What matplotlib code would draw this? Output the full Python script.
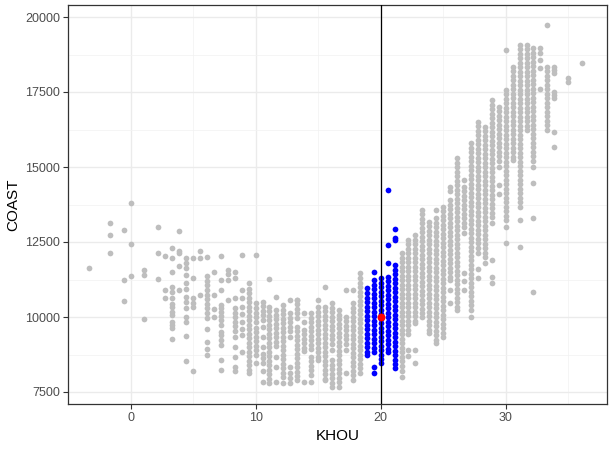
import matplotlib
matplotlib.use("Agg")
import matplotlib.pyplot as plt
import numpy as np

# KHOU temperature columns and the COAST loads for each column
khou_cols = [-3.33, -1.67, -0.56, 0.0, 1.11, 2.22, 2.78, 3.33, 3.89, 4.44,
             5.0, 5.56, 6.11, 6.67, 7.22, 7.78, 8.33, 8.89, 9.44, 10.0,
             10.56, 11.11, 11.67, 12.22, 12.78, 13.33, 13.89, 14.44, 15.0, 15.56,
             16.11, 16.67, 17.22, 17.78, 18.33, 18.89, 19.44, 20.0, 20.56, 21.11,
             21.67, 22.22, 22.78, 23.33, 23.89, 24.44, 25.0, 25.56, 26.11, 26.67,
             27.22, 27.78, 28.33, 28.89, 29.44, 30.0, 30.56, 31.11, 31.67, 32.22,
             32.78, 33.33, 33.89, 35.0, 36.11]

coast_cols = [
    [11620],
    [13120, 12750, 12120],
    [12890, 11230, 10520],
    [13790, 12430, 11360],
    [11560, 11390, 9920],
    [12990, 12120, 11270],
    [12050, 10910, 10650],
    [12290, 11960, 11500, 11010, 10850, 10620, 10450, 10350, 10180, 10070, 9850, 9730, 9620, 9260],
    [12860, 12200, 12140, 11700, 10900],
    [11960, 11790, 11620, 11400, 11120, 10920, 10680, 10500, 10300, 10010, 9850, 9370, 8520],
    [11960, 11290, 10620, 10460, 10350, 8190],
    [12200, 11960, 10750],
    [11990, 11360, 11210, 11060, 10900, 10750, 10600, 10450, 10300, 10150, 9980, 9590, 9180, 8920, 8720],
    [11500, 10730, 10270, 10010],
    [12030, 11230, 10900, 10400, 10290, 10180, 10040, 9900, 9730, 9510, 9400, 9230, 9070, 8570, 8230],
    [11570, 11450, 11230, 10570],
    [11510, 11290, 10620, 10290, 10150, 10000, 9850, 9700, 9550, 9350, 9010, 8680, 8345, 8210],
    [12060, 10900, 10650, 10350, 10100, 9850, 9600, 9400, 8850],
    [11120, 10950, 10790, 10620, 10500, 10350, 10200, 10050, 9900, 9750, 9600, 9450, 9300, 9150,
     9000, 8850, 8700, 8550, 8400, 8250, 8130],
    [12070, 10460, 10300, 10150, 9990, 9830, 9650, 9500, 9350, 9200, 9050, 8900, 8750, 8460],
    [10510, 10360, 10210, 10060, 9900, 9680, 9345, 9010, 8780, 8620, 8460, 8200, 7850],
    [11260, 10340, 10190, 10040, 9890, 9740, 9590, 9440, 9290, 9140, 8990, 8840, 8690, 8540,
     8390, 8240, 8090, 7940, 7790],
    [10680, 10230, 10080, 9930, 9780, 9630, 9480, 9330, 9180, 9030, 8680, 8350, 7850],
    [10400, 10250, 10100, 9950, 9800, 9650, 9500, 9350, 9200, 9050, 8900, 8750, 8600, 8450,
     8300, 8150, 8000, 7790],
    [10570, 10120, 9970, 9820, 9670, 9520, 9350, 8350, 8120, 7970, 7790],
    [10570, 10570, 10420, 10270, 10120, 9970, 9680, 9530, 9380, 9230, 9080, 8930, 8780, 8630,
     8480, 8330, 8180, 8020, 7900],
    [10120, 9840, 9570, 9420, 9270, 9120, 8970, 8870, 7850],
    [10120, 9970, 9820, 9670, 9520, 9370, 9220, 9070, 8920, 8670, 8520, 8370, 8220, 8070, 7850],
    [10570, 10330, 10180, 10030, 9880, 9730, 9580, 9430, 9280, 9130, 8980, 8830, 8680, 8570],
    [11010, 10340, 10190, 10040, 9890, 9740, 9590, 9440, 9290, 9140, 8990, 8840, 8690, 8540,
     8390, 8240, 8090, 7940, 7900],
    [10460, 10310, 10160, 10010, 9860, 9710, 9560, 9410, 9260, 9110, 8900, 8560, 8410, 8260,
     8110, 7960, 7810, 7680],
    [10230, 10080, 9930, 9780, 9630, 9480, 9330, 9180, 9030, 8880, 8730, 8580, 8430, 8280,
     8130, 7980, 7830, 7680],
    [10900, 10010, 9860, 9710, 9560, 9410, 9260, 9110, 8900, 8120],
    [10900, 10460, 10310, 10160, 10010, 9860, 9710, 9560, 9410, 9260, 9110, 8960, 8810, 8660,
     8510, 8360, 8210, 8060, 7900],
    [11460, 11300, 11150, 11000, 10850, 10700, 10550, 10400, 10250, 10100, 9950, 9800, 9650,
     9500, 9350, 9200, 9050, 8900, 8750, 8600, 8450, 8300, 8120],
    [10960, 10800, 10650, 10500, 10350, 10200, 10050, 9900, 9750, 9600, 9450, 9300, 9150,
     9000, 8850, 8730],
    [11510, 11230, 11080, 10930, 10780, 10630, 10480, 10330, 10180, 10030, 9880, 9730, 9580,
     9430, 9280, 9130, 8980, 8850, 8350, 8150],
    [11290, 11140, 10990, 10840, 10690, 10540, 10390, 10240, 10090, 9940, 9790, 9640, 9490,
     9340, 9190, 9040, 8890, 8740, 8600, 8460],
    [14230, 12400, 11790, 11340, 11190, 11040, 10890, 10740, 10590, 10440, 10290, 10140, 9990,
     9840, 9690, 9540, 9390, 9240, 9090, 8940, 8850],
    [12920, 12620, 12570, 11730, 11580, 11430, 11280, 11130, 10980, 10830, 10680, 10530, 10380,
     10230, 10080, 9930, 9780, 9630, 9480, 9330, 9180, 9030, 8880, 8730, 8580, 8430, 8290],
    [12120, 11970, 11820, 11670, 11520, 11370, 11220, 11070, 10920, 10770, 10620, 10470, 10320,
     10170, 10020, 9870, 9720, 9570, 9420, 9270, 9120, 8970, 8820, 8670, 8520, 8370, 8200, 8010],
    [12570, 12420, 12270, 12120, 11970, 11820, 11670, 11520, 11370, 11220, 11070, 10920, 10770,
     10620, 10470, 10320, 10170, 10020, 9870, 9720, 9570, 9420, 8900, 8700],
    [12730, 12580, 12430, 12280, 12130, 11980, 11830, 11680, 11530, 11380, 11230, 11080, 10930,
     10780, 10630, 10480, 10330, 10180, 10030, 9880, 9790, 8900, 8460],
    [13570, 13420, 13270, 13120, 12970, 12820, 12670, 12520, 12370, 12220, 12070, 11920, 11770,
     11620, 11470, 11320, 11170, 11020, 10870, 10720, 10570, 10420, 10270, 10120, 10010],
    [13180, 13030, 12880, 12730, 12580, 12430, 12280, 12130, 11980, 11830, 11680, 11530, 11380,
     11230, 11080, 10930, 10780, 10630, 10480, 10330, 10180, 10030, 9880, 9730, 9580, 9460],
    [13570, 13300, 13150, 13000, 12850, 12700, 12550, 12400, 12250, 12100, 11950, 11800, 11650,
     11500, 11350, 11200, 11050, 10900, 10750, 10600, 10450, 10300, 10150, 10000, 9850, 9700,
     9550, 9400, 9250, 9120],
    [13680, 13530, 13380, 13230, 13080, 12930, 12780, 12630, 12480, 12330, 12180, 12030, 11880,
     11730, 11580, 11430, 11280, 11130, 10980, 10830, 10680, 10530, 10380, 10230, 10080, 9930,
     9780, 9630, 9480, 9345],
    [14350, 14200, 13900, 13750, 13600, 13450, 13300, 13150, 13000, 12850, 12700, 12550, 12400,
     12250, 12100, 11950, 11800, 11650, 11500, 11350, 11230, 10900, 10460],
    [15290, 15140, 14990, 14840, 14690, 14540, 14390, 14240, 14090, 13940, 13790, 13640, 13490,
     13340, 13190, 13040, 12890, 12740, 12590, 12440, 12290, 12140, 11990, 11840, 11690, 11540,
     11390, 11240, 11090, 10940, 10790, 10640, 10490, 10340, 10230],
    [14570, 14350, 14200, 14050, 13900, 13750, 13600, 13450, 13300, 13150, 13000, 12790, 11460,
     11200, 10900],
    [15790, 15640, 15490, 15340, 15190, 15040, 14890, 14740, 14590, 14440, 14290, 14140, 13990,
     13840, 13690, 13540, 13390, 13240, 13090, 12940, 12790, 12640, 12490, 12340, 12190, 12040,
     11890, 11740, 11590, 11440, 11290, 11140, 10990, 10840, 10690, 10540, 10390, 10240, 10010],
    [16510, 16360, 16210, 16060, 15910, 15760, 15610, 15460, 15310, 15160, 15010, 14860, 14710,
     14560, 14410, 14260, 14110, 13960, 13810, 13660, 13510, 13360, 13210, 13060, 12910, 12760,
     12610, 12460, 12310, 12120, 11600, 11300],
    [16350, 16200, 16050, 15900, 15750, 15600, 15450, 15300, 15150, 15000, 14850, 14700, 14550,
     14400, 14250, 14100, 13950, 13800, 13650, 13500, 13350, 13200, 13050, 12900, 12750, 12600,
     12450, 12300, 12150, 12000, 11790],
    [17230, 17080, 16930, 16780, 16630, 16480, 16330, 16180, 16030, 15880, 15730, 15580, 15430,
     15280, 15130, 14980, 14830, 14680, 14530, 14380, 14230, 14080, 13930, 13780, 13630, 13480,
     13330, 13120, 11900, 11350, 11120],
    [17010, 16860, 16710, 16560, 16410, 16260, 16110, 15960, 15810, 15660, 15510, 15360, 15210,
     15010, 14400, 14100],
    [18900, 17570, 17420, 17270, 17120, 16970, 16820, 16670, 16520, 16370, 16220, 16070, 15920,
     15770, 15620, 15470, 15320, 15170, 15020, 14870, 14720, 14570, 14420, 14270, 14120, 13970,
     13820, 13670, 13520, 13370, 13220, 13010, 12460],
    [18350, 18200, 18050, 17900, 17750, 17600, 17450, 17300, 17150, 17000, 16850, 16700, 16550,
     16400, 16250, 16100, 15950, 15800, 15650, 15500, 15350, 15230],
    [19070, 18920, 18770, 18620, 18470, 18320, 18170, 18020, 17870, 17720, 17570, 17420, 17270,
     17120, 16970, 16820, 16670, 16520, 16370, 16220, 16070, 15920, 15770, 15620, 15470, 15320,
     15170, 15020, 14870, 14720, 14570, 14420, 14270, 14120, 13970, 13820, 13680, 13230, 12350],
    [19070, 18920, 18770, 18620, 18470, 18320, 18170, 18020, 17870, 17720, 17570, 17420, 17270,
     17120, 16970, 16820, 16670, 16520, 16370, 16230],
    [18960, 18810, 18660, 18510, 18360, 18210, 18060, 17910, 17760, 17610, 17460, 17310, 17160,
     17010, 16860, 16710, 16560, 16410, 16260, 16110, 15960, 15810, 15660, 15510, 15360, 15210,
     15010, 14460, 13290, 10850],
    [18960, 18800, 18570, 18300, 17600],
    [19730, 18350, 18200, 18050, 17900, 17750, 17600, 17450, 17300, 17150, 17000, 16850, 16700,
     16550, 16400, 16230],
    [18340, 18230, 18120, 17510, 17400, 17290, 16180, 15680],
    [17960, 17850],
    [18460],
]

# query point and window half-width
ref_khou = [20]
ref_coast = [10000]
window = 1.5

khou = np.concatenate([[x] * len(c) for x, c in zip(khou_cols, coast_cols)])
coast = np.concatenate([np.array(c, dtype=float) for c in coast_cols])
near = np.abs(khou - ref_khou[0]) <= window

plt.rcParams['font.family'] = ['Liberation Sans', 'DejaVu Sans']

fig = plt.figure(figsize=(6.15, 4.49), dpi=100)
ax = fig.add_axes([68 / 615, 45 / 449, 539 / 615, 399 / 449])

ax.scatter(khou[~near], coast[~near], s=17, c='#BEBEBE', linewidths=0, zorder=2)
ax.scatter(khou[near], coast[near], s=17, c='#0000FF', linewidths=0, zorder=3)
ax.axvline(ref_khou[0], color='black', lw=0.9, zorder=4)
ax.scatter(ref_khou, ref_coast, s=32, c='#FF0000', linewidths=0, zorder=5)

ax.set_xlim(-4.68, 38.1)
ax.set_ylim(7100, 20400)
ax.set_xticks([0, 10, 20, 30])
ax.set_yticks([7500, 10000, 12500, 15000, 17500, 20000])
ax.set_xticks([-5, 5, 15, 25, 35], minor=True)
ax.set_yticks([8750, 11250, 13750, 16250, 18750], minor=True)
ax.grid(which='major', color='#EBEBEB', lw=1.0, zorder=0)
ax.grid(which='minor', color='#F2F2F2', lw=0.55, zorder=0)
ax.set_axisbelow(True)
ax.tick_params(which='major', length=3.5, width=0.8, color='#333333',
               labelsize=9, labelcolor='#4D4D4D', pad=2)
ax.tick_params(which='minor', length=0)
for sp in ax.spines.values():
    sp.set_color('#333333')
    sp.set_linewidth(0.9)

ax.set_xlabel('KHOU', fontsize=11, labelpad=4)
ax.set_ylabel('COAST', fontsize=11, labelpad=4)

fig.savefig('out.png', dpi=100)
